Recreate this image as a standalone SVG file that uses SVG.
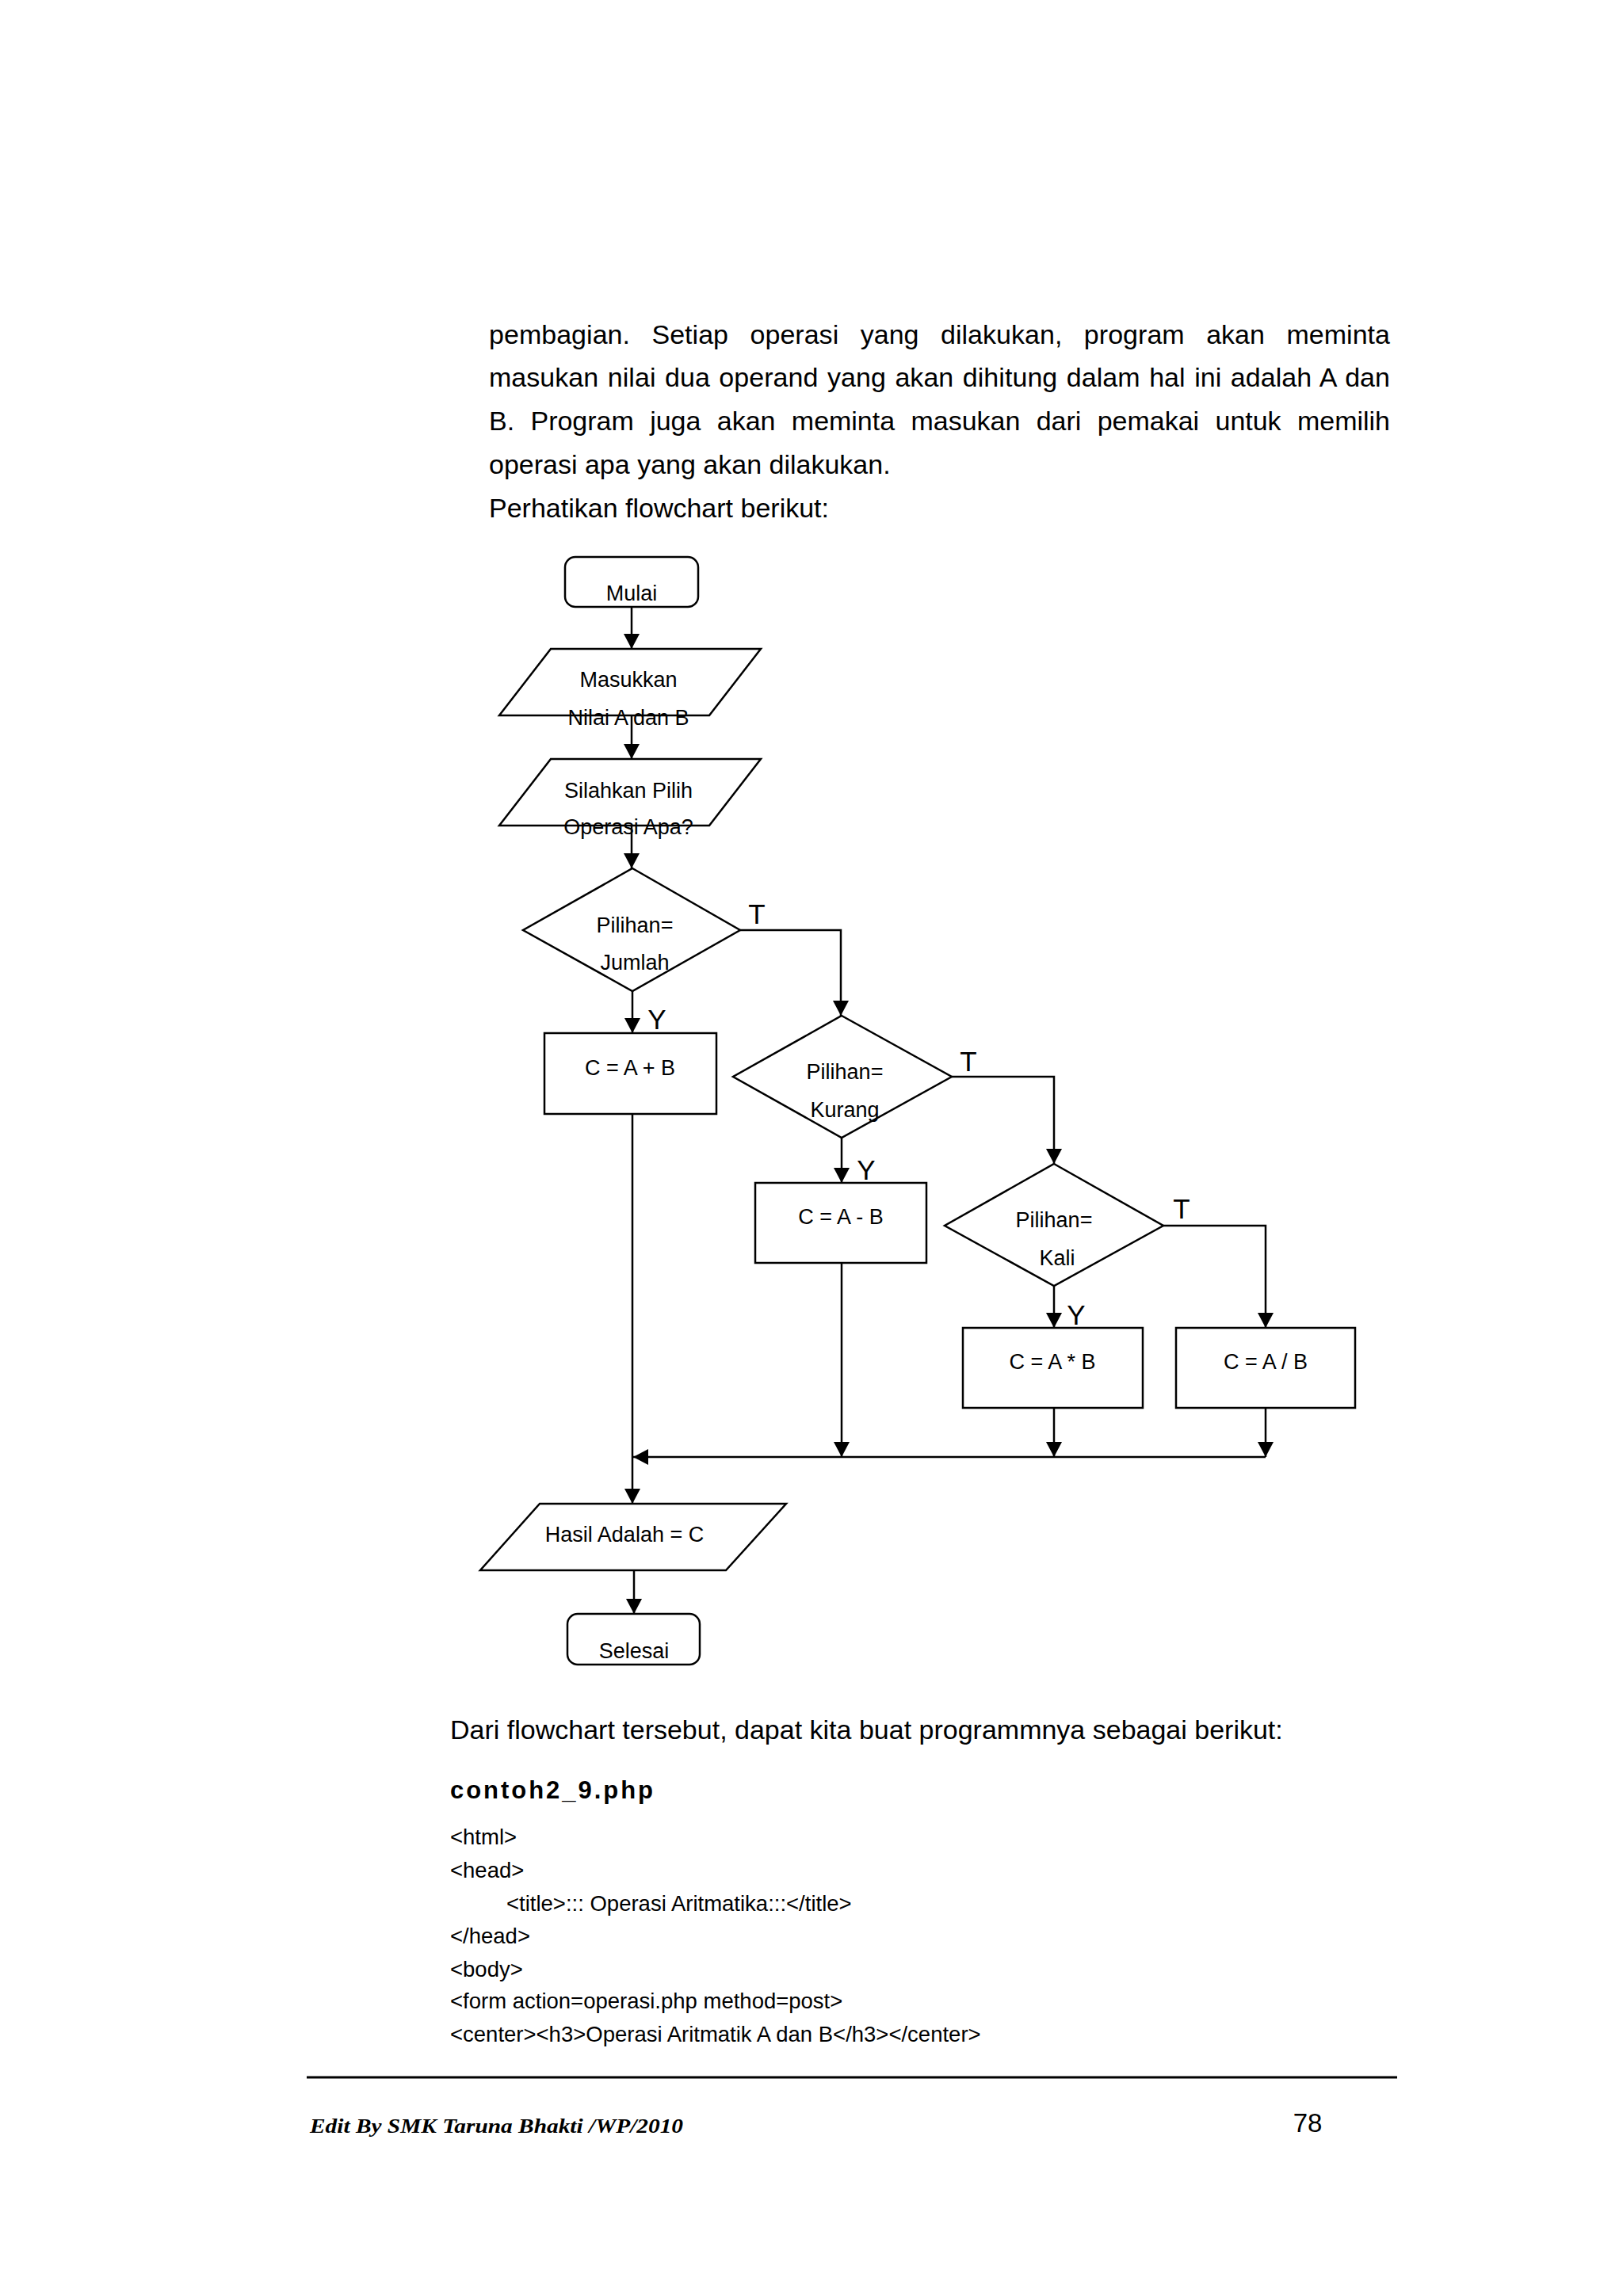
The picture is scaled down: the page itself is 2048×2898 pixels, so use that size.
<svg xmlns="http://www.w3.org/2000/svg" width="2048" height="2898" viewBox="0 0 2048 2898">
<style>
text{font-family:"Liberation Sans",Arial,sans-serif;fill:#000}
.p{font-size:34px}
.n{font-size:27px;text-anchor:middle}
.lbl{font-size:35px;text-anchor:middle}
.code{font-size:27.5px}
.sh{fill:#fff;stroke:#000;stroke-width:2.5}
.c{fill:none;stroke:#000;stroke-width:2.5}
</style>
<defs>
<marker id="ah" viewBox="0 0 19 20" refX="19" refY="10" markerWidth="19" markerHeight="20" markerUnits="userSpaceOnUse" orient="auto">
<path d="M0,0 L19,10 L0,20 z" fill="#000"/>
</marker>
</defs>
<rect width="2048" height="2898" fill="#fff"/>

<text class="p" x="617" y="434" word-spacing="18" textLength="1137" lengthAdjust="spacing">pembagian. Setiap operasi yang dilakukan, program akan meminta</text>
<text class="p" x="617" y="488" word-spacing="2" textLength="1137" lengthAdjust="spacing">masukan nilai dua operand yang akan dihitung dalam hal ini adalah A dan</text>
<text class="p" x="617" y="543" word-spacing="11" textLength="1137" lengthAdjust="spacing">B. Program juga akan meminta masukan dari pemakai untuk memilih</text>
<text class="p" x="617" y="598">operasi apa yang akan dilakukan.</text>
<text class="p" x="617" y="653">Perhatikan flowchart berikut:</text>

<g id="connectors">
<path class="c" d="M797,766 V819" marker-end="url(#ah)"/>
<path class="c" d="M797,903 V958" marker-end="url(#ah)"/>
<path class="c" d="M797,1042 V1096" marker-end="url(#ah)"/>
<path class="c" d="M934,1174 H1061 V1282" marker-end="url(#ah)"/>
<path class="c" d="M798,1251 V1304" marker-end="url(#ah)"/>
<path class="c" d="M1201,1359 H1330 V1469" marker-end="url(#ah)"/>
<path class="c" d="M1062,1436 V1493" marker-end="url(#ah)"/>
<path class="c" d="M1468,1547 H1597 V1676" marker-end="url(#ah)"/>
<path class="c" d="M1330,1623 V1676" marker-end="url(#ah)"/>
<path class="c" d="M798,1406 V1898" marker-end="url(#ah)"/>
<path class="c" d="M1062,1594 V1839" marker-end="url(#ah)"/>
<path class="c" d="M1330,1777 V1839" marker-end="url(#ah)"/>
<path class="c" d="M1597,1777 V1839" marker-end="url(#ah)"/>
<path class="c" d="M1597,1839 H799" stroke-width="3" marker-end="url(#ah)"/>
<path class="c" d="M800,1982 V2037" marker-end="url(#ah)"/>
<text class="lbl" x="955" y="1166">T</text>
<text class="lbl" x="829" y="1299">Y</text>
<text class="lbl" x="1222" y="1352">T</text>
<text class="lbl" x="1093" y="1489">Y</text>
<text class="lbl" x="1491" y="1538">T</text>
<text class="lbl" x="1358" y="1672">Y</text>
</g>

<g id="mulai">
<rect class="sh" x="713" y="703" width="168" height="63" rx="13"/>
<text class="n" x="797" y="758">Mulai</text>
</g>
<g id="input-ab">
<polygon class="sh" points="695,819 960,819 895,903 630,903"/>
<text class="n" x="793" y="867">Masukkan</text>
<text class="n" x="793" y="915">Nilai A dan B</text>
</g>
<g id="input-op">
<polygon class="sh" points="695,958 960,958 895,1042 630,1042"/>
<text class="n" x="793" y="1007">Silahkan Pilih</text>
<text class="n" x="793" y="1053">Operasi Apa?</text>
</g>
<g id="dec-jumlah">
<polygon class="sh" points="798,1096 934,1174 798,1251 660,1174"/>
<text class="n" x="801" y="1177">Pilihan=</text>
<text class="n" x="801" y="1224">Jumlah</text>
</g>
<g id="proc-add">
<rect class="sh" x="687" y="1304" width="217" height="102"/>
<text class="n" x="795" y="1357">C = A + B</text>
</g>
<g id="dec-kurang">
<polygon class="sh" points="1062,1282 1201,1359 1062,1436 925,1359"/>
<text class="n" x="1066" y="1362">Pilihan=</text>
<text class="n" x="1066" y="1410">Kurang</text>
</g>
<g id="proc-sub">
<rect class="sh" x="953" y="1493" width="216" height="101"/>
<text class="n" x="1061" y="1545">C = A - B</text>
</g>
<g id="dec-kali">
<polygon class="sh" points="1330,1469 1468,1547 1330,1623 1192,1547"/>
<text class="n" x="1330" y="1549">Pilihan=</text>
<text class="n" x="1334" y="1597">Kali</text>
</g>
<g id="proc-mul">
<rect class="sh" x="1215" y="1676" width="227" height="101"/>
<text class="n" x="1328" y="1728">C = A * B</text>
</g>
<g id="proc-div">
<rect class="sh" x="1484" y="1676" width="226" height="101"/>
<text class="n" x="1597" y="1728">C = A / B</text>
</g>
<g id="output">
<polygon class="sh" points="681,1898 992,1898 916,1982 606,1982"/>
<text class="n" x="788" y="1946">Hasil Adalah = C</text>
</g>
<g id="selesai">
<rect class="sh" x="716" y="2037" width="167" height="64" rx="13"/>
<text class="n" x="800" y="2093">Selesai</text>
</g>

<text class="p" x="568" y="2195">Dari flowchart tersebut, dapat kita buat programmnya sebagai berikut:</text>
<text x="568" y="2270" font-size="31" font-weight="bold" letter-spacing="3" textLength="259" lengthAdjust="spacing">contoh2_9.php</text>
<text class="code" x="568" y="2328">&lt;html&gt;</text>
<text class="code" x="568" y="2370">&lt;head&gt;</text>
<text class="code" x="639" y="2412">&lt;title&gt;::: Operasi Aritmatika:::&lt;/title&gt;</text>
<text class="code" x="568" y="2453">&lt;/head&gt;</text>
<text class="code" x="568" y="2495">&lt;body&gt;</text>
<text class="code" x="568" y="2535">&lt;form action=operasi.php method=post&gt;</text>
<text class="code" x="568" y="2577">&lt;center&gt;&lt;h3&gt;Operasi Aritmatik A dan B&lt;/h3&gt;&lt;/center&gt;</text>

<line x1="387" y1="2622" x2="1763" y2="2622" stroke="#000" stroke-width="3"/>
<text x="391" y="2692" font-style="italic" font-weight="bold" font-size="26" textLength="471" lengthAdjust="spacingAndGlyphs" style="font-family:'Liberation Serif',serif">Edit By SMK Taruna Bhakti /WP/2010</text>
<text x="1650" y="2691" font-size="33" text-anchor="middle">78</text>
</svg>
